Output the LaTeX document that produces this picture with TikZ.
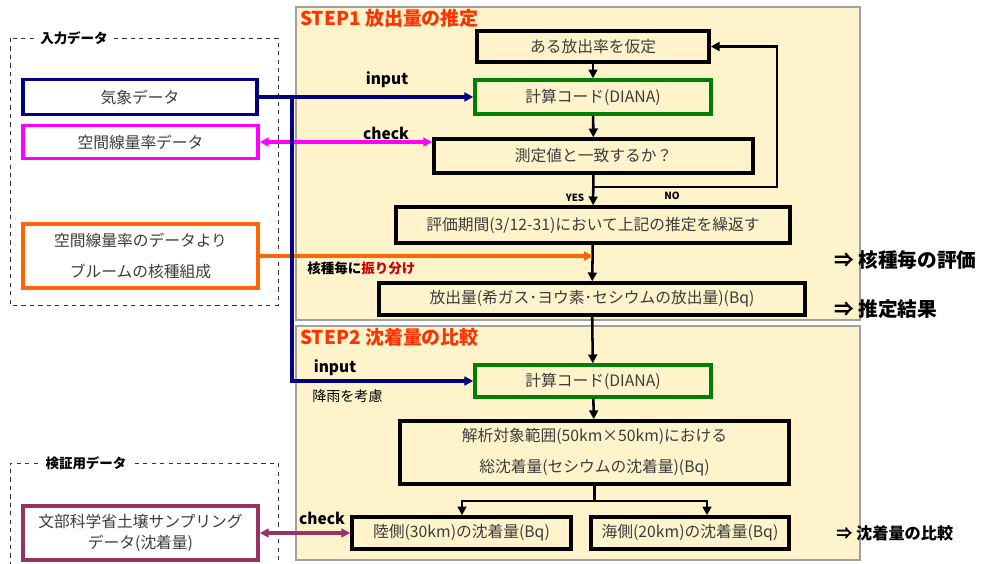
\documentclass[tikz,border=0pt]{standalone}
\usepackage{fontspec}
\setmainfont{Noto Sans CJK JP}
\usetikzlibrary{arrows.meta,positioning}
\definecolor{panelbg}{RGB}{255,243,204}
\definecolor{panelrule}{RGB}{160,160,160}
\definecolor{boxtext}{RGB}{60,60,60}
\definecolor{stepred}{RGB}{255,51,0}
\definecolor{metblue}{RGB}{0,0,128}
\definecolor{dosemag}{RGB}{255,0,255}
\definecolor{comporange}{RGB}{255,102,0}
\definecolor{codegreen}{RGB}{0,128,0}
\definecolor{mextpurple}{RGB}{153,51,102}
\definecolor{splitred}{RGB}{204,0,0}

\begin{document}
\begin{tikzpicture}[x=0.025cm,y=-0.025cm,>={Triangle[length=2.2mm,width=2.2mm]},
  box/.style={rectangle,draw,line width=2.4pt,align=center,text=boxtext,inner sep=0pt,font=\fontsize{11.2}{17}\selectfont},
  codebox/.style={box,draw=codegreen},
  databox/.style={rectangle,draw,line width=2.4pt,fill=white,align=center,text=boxtext,inner sep=0pt,font=\fontsize{11.2}{22}\selectfont},
  flow/.style={line width=1.8pt},
  feed/.style={line width=2.2pt},
  tag/.style={font=\bfseries\fontsize{11}{12}\selectfont,inner sep=1pt},
  steptitle/.style={anchor=west,text=stepred,font=\bfseries\fontsize{13.5}{14}\selectfont,inner sep=0pt},
  result/.style={anchor=west,font=\bfseries\fontsize{14}{15}\selectfont,inner sep=0pt},
  grp/.style={draw=black!80,dashed,line width=0.6pt},
  grptitle/.style={fill=white,font=\bfseries\fontsize{9.6}{10}\selectfont,inner sep=3pt}]
\useasboundingbox (0,0) rectangle (988,564);

% panels
\draw[panelrule,fill=panelbg,line width=1pt] (296,7) rectangle (860,320);
\draw[panelrule,fill=panelbg,line width=1pt] (296,326) rectangle (860,560);
\node[steptitle] (step1) at (300,18) {STEP1 放出量の推定};
\node[steptitle] (step2) at (300,337) {STEP2 沈着量の比較};

% input groups
\draw[grp] (10,38) rectangle (278,305);
\node[grptitle] (ingrp) at (74,38) {入力データ};
\draw[grp] (10,566) -- (10,463) -- (278,463) -- (278,566);
\node[grptitle] (vergrp) at (86,463) {検証用データ};

\node[databox,draw=metblue,minimum width=5.85cm,minimum height=0.86cm] (met) at (140,97) {気象データ};
\node[databox,draw=dosemag,minimum width=5.88cm,minimum height=0.82cm] (dose) at (140.5,142) {空間線量率データ};
\node[databox,draw=comporange,minimum width=5.88cm,minimum height=1.6cm] (comp) at (140.5,256) {空間線量率のデータより\\ブルームの核種組成};
\node[databox,draw=mextpurple,minimum width=5.88cm,minimum height=1.35cm,font=\fontsize{11.2}{15}\selectfont] (mext) at (140.5,533) {文部科学省土壌サンプリング\\データ(沈着量)};

% step 1
\node[box,minimum width=5.8cm,minimum height=0.78cm] (assume) at (593,46.5) {ある放出率を仮定};
\node[codebox,minimum width=5.9cm,minimum height=0.85cm] (calc1) at (593,97) {計算コード(DIANA)};
\node[box,minimum width=7.98cm,minimum height=0.85cm] (match) at (593.5,156) {測定値と一致するか？};
\node[box,minimum width=9.85cm,minimum height=0.9cm] (period) at (593,225) {評価期間(3/12-31)において上記の推定を繰返す};
\node[box,minimum width=10.65cm,minimum height=0.8cm] (release) at (592,299) {放出量(希ガス･ヨウ素･セシウムの放出量)(Bq)};

\draw[flow,->] (assume) -- (calc1);
\draw[flow,->] (calc1) -- (match);
\draw[flow,->] (match) -- (period);
\coordinate (nobend) at (593.5,187);
\coordinate (noturn) at (777,187);
\draw[flow,->] (nobend) -- (noturn) |- (assume.east);
\node[font=\bfseries\fontsize{7}{8}\selectfont] (yes) at (575,198) {YES};
\node[font=\bfseries\fontsize{7}{8}\selectfont] (no) at (672,196) {NO};
\draw[flow,->] (period) -- (release);

\node[tag] (input1) at (387,80) {input};
\node[tag] (check1) at (386,133) {check};
\draw[feed,metblue,->] (met.east) -- (calc1.west);
\draw[feed,dosemag,<->] (dose.east) -- (dose.east -| match.west);
\draw[feed,comporange,->] (comp.east) -- (comp.east -| period.south);
\node[anchor=west,inner sep=0pt,font=\bfseries\fontsize{9.6}{10}\selectfont] (split) at (307,268) {核種毎に\textcolor{splitred}{振り分け}};

% step 2
\node[codebox,minimum width=5.9cm,minimum height=0.8cm] (calc2) at (593,381) {計算コード(DIANA)};
\node[box,minimum width=9.73cm,minimum height=1.58cm,font=\fontsize{11.2}{22}\selectfont] (total) at (594.5,452.5) {解析対象範囲(50km×50km)における\\総沈着量(セシウムの沈着量)(Bq)};
\node[box,minimum width=5.48cm,minimum height=0.8cm] (land) at (461.5,533) {陸側(30km)の沈着量(Bq)};
\node[box,minimum width=4.95cm,minimum height=0.8cm] (sea) at (690,533) {海側(20km)の沈着量(Bq)};

\draw[flow,->] (release) -- (calc2);
\draw[flow,->] (calc2) -- (total);
\coordinate (forkL) at (462,501);
\coordinate (forkR) at (707,501);
\draw[flow] (total.south) -- (total.south |- forkL);
\draw[flow,->] (forkL) -- (forkR) -- (forkR |- sea.north);
\draw[flow,->] (forkR) -- (forkL) -- (forkL |- land.north);

\coordinate (metfork) at (292,97);
\draw[feed,metblue,->] (metfork) |- (calc2.west);
\node[tag] (input2) at (335,368) {input};
\node[anchor=west,inner sep=0pt,font=\fontsize{10}{11}\selectfont] (rain) at (312,396) {降雨を考慮};
\node[tag] (check2) at (322,518) {check};
\draw[feed,mextpurple,<->] (mext.east) -- (land.west);

% results
\node[result] (res1) at (834,260) {⇒ 核種毎の評価};
\node[result] (res2) at (834,309) {⇒ 推定結果};
\node[result,font=\bfseries\fontsize{11.5}{12}\selectfont] (res3) at (836,533) {⇒ 沈着量の比較};
\end{tikzpicture}
\end{document}
